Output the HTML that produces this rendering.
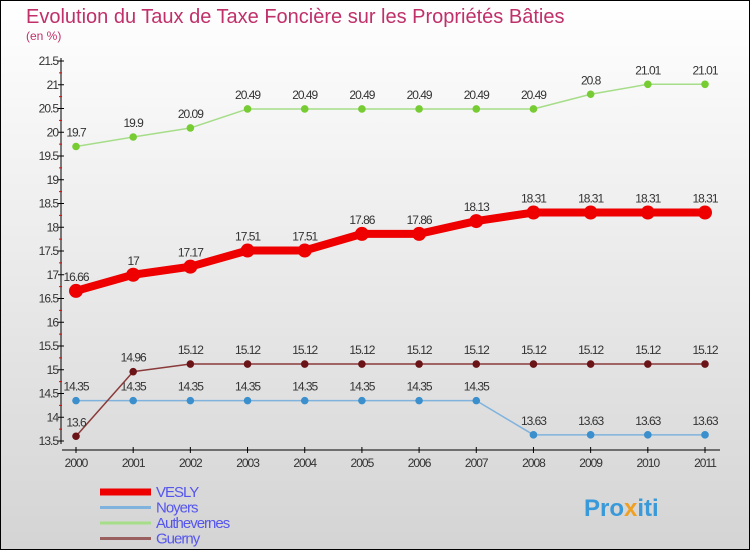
<!DOCTYPE html>
<html><head><meta charset="utf-8"><style>
html,body{margin:0;padding:0}
body{width:750px;height:550px;overflow:hidden;font-family:"Liberation Sans",sans-serif}
svg{display:block}
</style></head><body>
<svg id="c" width="750" height="550" xmlns="http://www.w3.org/2000/svg">
<defs><linearGradient id="bg" x1="0" y1="0" x2="0" y2="1"><stop offset="0" stop-color="#ffffff"/><stop offset="1" stop-color="#d4d4d4"/></linearGradient></defs>
<rect x="0.5" y="0.5" width="749" height="549" fill="url(#bg)" stroke="#000"/>
<text x="26" y="23" font-size="20" fill="#c0306a">Evolution du Taux de Taxe Foncière sur les Propriétés Bâties</text>
<text x="26" y="40" font-size="12" fill="#c0306a">(en %)</text>
<g id="axes"></g>
<g id="series"></g>
<g id="legend"></g>
<text x="584" y="516" font-size="24" font-weight="bold" fill="#3a9ad9">Pro<tspan fill="#f0a020">x</tspan>iti</text>
</svg>
<script>
const years=[2000,2001,2002,2003,2004,2005,2006,2007,2008,2009,2010,2011];
const yTicks=[13.5,14,14.5,15,15.5,16,16.5,17,17.5,18,18.5,19,19.5,20,20.5,21,21.5];
const vesly=[16.66,17,17.17,17.51,17.51,17.86,17.86,18.13,18.31,18.31,18.31,18.31];
const noyers=[14.35,14.35,14.35,14.35,14.35,14.35,14.35,14.35,13.63,13.63,13.63,13.63];
const authevernes=[19.7,19.9,20.09,20.49,20.49,20.49,20.49,20.49,20.49,20.8,21.01,21.01];
const guerny=[13.6,14.96,15.12,15.12,15.12,15.12,15.12,15.12,15.12,15.12,15.12,15.12];
const NS="http://www.w3.org/2000/svg";
const X=i=>76+i*(629/11);
const Y=v=>441-(v-13.5)*47.5;
function mk(tag,attrs,parent){const e=document.createElementNS(NS,tag);for(const k in attrs)e.setAttribute(k,attrs[k]);parent.appendChild(e);return e;}
const ax=document.getElementById('axes');
let e=mk('line',{x1:61,y1:58,x2:61,y2:444,stroke:'#000','stroke-width':1},ax);


e=mk('line',{x1:62,y1:450,x2:720,y2:450,stroke:'#000','stroke-width':1},ax);


yTicks.forEach((t,i)=>{
  const y=Y(t);
  mk('line',{x1:58,y1:y,x2:64,y2:y,stroke:'#000'},ax);
  if(i<yTicks.length-1)mk('line',{x1:59,y1:y-47.5/4,x2:62,y2:y-47.5/4,stroke:'#e00'},ax);
  const tx=mk('text',{x:58,y:y+4,'font-size':12,'text-anchor':'end',fill:'#333','letter-spacing':'-1'},ax);
  tx.textContent=String(t);
  
  
});
years.forEach((yr,i)=>{
  const x=X(i);
  mk('line',{x1:x,y1:447,x2:x,y2:453,stroke:'#000'},ax);
  const tx=mk('text',{x:x,y:467,'font-size':12,'text-anchor':'middle',fill:'#333','letter-spacing':'-1'},ax);
  tx.textContent=String(yr);
  
  
});
const sg=document.getElementById('series');
function series(name,vals,color,lw,r,lineColor){
  const g=mk('g',{},sg);
  
  
  const p=mk('polyline',{points:vals.map((v,i)=>X(i)+','+Y(v)).join(' '),fill:'none',stroke:lineColor,'stroke-width':lw,'stroke-linejoin':'round'},g);
  
  
  vals.forEach((v,i)=>{
    const c=mk('circle',{cx:X(i),cy:Y(v),r:r,fill:color},g);
    
    
    const t=mk('text',{x:X(i),y:Y(v)-10,'font-size':12,'text-anchor':'middle',fill:'#333','letter-spacing':'-1'},g);
    t.textContent=String(v);
    
    
  });
}
series('authevernes',authevernes,'#77cc33',1.5,3.8,'#a6dd88');
series('noyers',noyers,'#3a8fcc',1.5,3.8,'#7fb3dd');
series('guerny',guerny,'#6b1418',1.5,3.8,'#8b3a3a');
series('vesly',vesly,'#ee0000',8,7,'#ee0000');
const lg=document.getElementById('legend');
const items=[['VESLY','#ee0000',7],['Noyers','#7fb3dd',3],['Authevernes','#a6dd88',3],['Guerny','#9a6060',3]];
items.forEach((it,i)=>{
  const y=492+i*15.5;
  const g=mk('g',{},lg);
  
  
  mk('line',{x1:100,y1:y,x2:151,y2:y,stroke:it[1],'stroke-width':it[2]},g);
  const t=mk('text',{x:156,y:y+5,'font-size':15,fill:'#5555ee','letter-spacing':'-1'},g);
  t.textContent=it[0];
});
</script>
</body></html>
